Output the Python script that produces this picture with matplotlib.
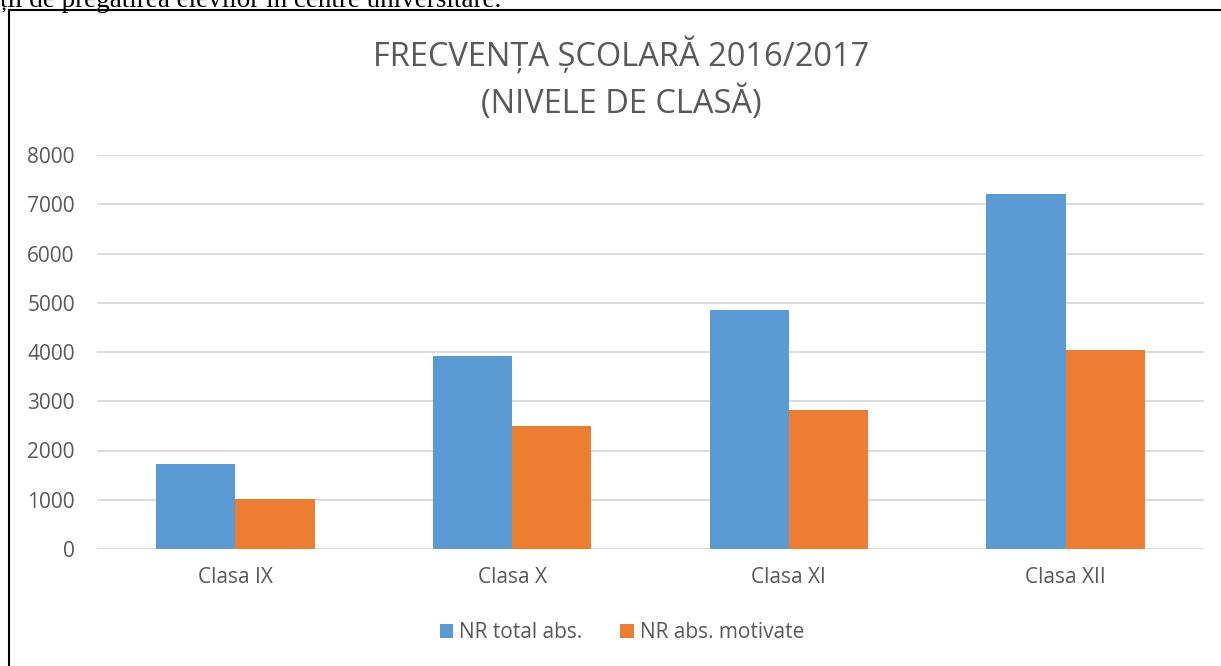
import matplotlib.pyplot as plt
import numpy as np
from matplotlib.patches import Rectangle

categories = ['Clasa IX', 'Clasa X', 'Clasa XI', 'Clasa XII']
nr_total_abs = [1720, 3920, 4860, 7200]
nr_abs_motivate = [1015, 2490, 2830, 4040]
series_names = ['NR total abs.', 'NR abs. motivate']
title_text = 'FRECVENȚA ȘCOLARĂ 2016/2017\n(NIVELE DE CLASĂ)'
above_text = 'ții de pregătirea elevilor în centre universitare.'

plt.rcParams['font.family'] = ['Open Sans', 'DejaVu Sans']
text_color = '#595959'
blue = '#5b9bd5'
orange = '#ed7d31'

W, H = 1221, 666
fig = plt.figure(figsize=(W / 100, H / 100), dpi=100)
fig.patch.set_facecolor('white')

# text of the document cut off above the chart
fig.text(0, 1 - 7 / H, above_text, family=['Liberation Serif'], fontsize=19.5,
         ha='left', va='baseline', color='black')

# chart frame
fig.patches.append(Rectangle((9 / W, -0.2), 1.2, 1 - 10 / H + 0.2,
                             transform=fig.transFigure, fill=False,
                             edgecolor='black', linewidth=1.5))

ax = fig.add_axes([97 / W, 1 - 549 / H, (1204 - 97) / W, (549 - 155) / H])
x = np.arange(len(categories))
w = 0.286
ax.bar(x - w / 2, nr_total_abs, w, color=blue, label=series_names[0], zorder=3)
ax.bar(x + w / 2, nr_abs_motivate, w, color=orange, label=series_names[1], zorder=3)

ax.set_xlim(-0.5, len(categories) - 0.5)
ax.set_ylim(0, 8000)
ax.set_yticks(range(0, 8001, 1000))
ax.set_xticks(x)
ax.set_xticklabels(categories)
ax.yaxis.grid(True, color='#d9d9d9', linewidth=1.3, zorder=0)
ax.set_axisbelow(True)
for s in ax.spines.values():
    s.set_visible(False)
ax.tick_params(length=0, labelsize=15, colors=text_color)
ax.tick_params(axis='x', pad=13)
ax.tick_params(axis='y', pad=16)

fig.text(621 / W, 1 - 79 / H, title_text, ha='center', va='center',
         fontsize=23.5, color=text_color, linespacing=1.4)

fig.legend(loc='center', bbox_to_anchor=(622 / W, 1 - 633 / H), ncol=2,
           frameon=False, fontsize=15, labelcolor=text_color,
           handlelength=0.65, handleheight=0.65, handletextpad=0.3,
           columnspacing=1.8)

fig.savefig('out.png', dpi=100)
